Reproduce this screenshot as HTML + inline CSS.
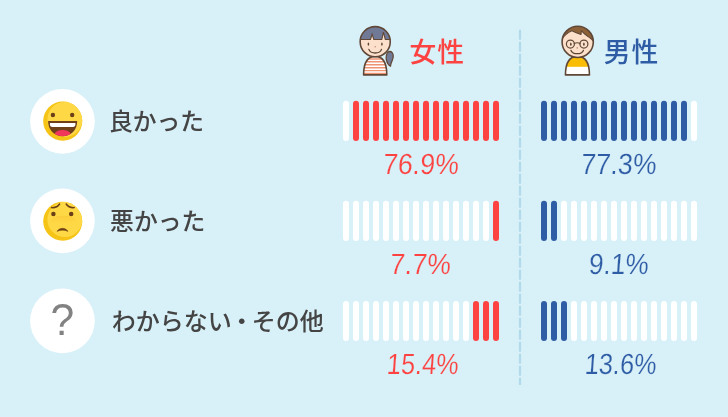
<!DOCTYPE html>
<html lang="ja">
<head>
<meta charset="utf-8">
<title>アンケート結果</title>
<style>
html,body{margin:0;padding:0;}
body{width:728px;height:417px;overflow:hidden;background:#d8f0f8;}
#wrap{position:relative;width:728px;height:417px;background:#d8f0f8;overflow:hidden;font-family:"Liberation Sans","Noto Sans CJK JP",sans-serif;}
#art{position:absolute;left:0;top:0;}
.lbl{position:absolute;white-space:nowrap;color:#444;font-size:23.8px;line-height:30px;height:30px;font-weight:500;}
.hd{position:absolute;white-space:nowrap;font-size:26.8px;line-height:34px;height:34px;font-weight:500;letter-spacing:1px;}
.pc{position:absolute;white-space:nowrap;font-size:29.2px;line-height:30px;height:30px;text-rendering:geometricPrecision;-webkit-text-stroke:0.2px #d8f0f8;transform-origin:0 50%;}
.f{color:#fc4341;}
.m{color:#2e5ca5;}
</style>
</head>
<body>
<div id="wrap">
<svg id="art" width="728" height="417" viewBox="0 0 728 417">
  <line x1="520" y1="29.8" x2="520" y2="385" stroke="#b1dbeb" stroke-width="2.2" stroke-dasharray="10 2"/>
  <circle cx="62.45" cy="121.35" r="32.35" fill="#fff"/>
  <circle cx="62.45" cy="220.85" r="32.35" fill="#fff"/>
  <circle cx="62.45" cy="320.85" r="32.35" fill="#fff"/>
  <g>
    <rect x="343.0" y="100.85" width="6" height="40.1" rx="3" fill="#ffffff"/>
    <rect x="353.0" y="100.85" width="6" height="40.1" rx="3" fill="#fc4341"/>
    <rect x="363.0" y="100.85" width="6" height="40.1" rx="3" fill="#fc4341"/>
    <rect x="373.0" y="100.85" width="6" height="40.1" rx="3" fill="#fc4341"/>
    <rect x="383.0" y="100.85" width="6" height="40.1" rx="3" fill="#fc4341"/>
    <rect x="393.0" y="100.85" width="6" height="40.1" rx="3" fill="#fc4341"/>
    <rect x="403.0" y="100.85" width="6" height="40.1" rx="3" fill="#fc4341"/>
    <rect x="413.0" y="100.85" width="6" height="40.1" rx="3" fill="#fc4341"/>
    <rect x="423.0" y="100.85" width="6" height="40.1" rx="3" fill="#fc4341"/>
    <rect x="433.0" y="100.85" width="6" height="40.1" rx="3" fill="#fc4341"/>
    <rect x="443.0" y="100.85" width="6" height="40.1" rx="3" fill="#fc4341"/>
    <rect x="453.0" y="100.85" width="6" height="40.1" rx="3" fill="#fc4341"/>
    <rect x="463.0" y="100.85" width="6" height="40.1" rx="3" fill="#fc4341"/>
    <rect x="473.0" y="100.85" width="6" height="40.1" rx="3" fill="#fc4341"/>
    <rect x="483.0" y="100.85" width="6" height="40.1" rx="3" fill="#fc4341"/>
    <rect x="493.0" y="100.85" width="6" height="40.1" rx="3" fill="#fc4341"/>
  </g>
  <g>
    <rect x="541.0" y="100.85" width="6" height="40.1" rx="3" fill="#2e5ca5"/>
    <rect x="551.0" y="100.85" width="6" height="40.1" rx="3" fill="#2e5ca5"/>
    <rect x="561.0" y="100.85" width="6" height="40.1" rx="3" fill="#2e5ca5"/>
    <rect x="571.0" y="100.85" width="6" height="40.1" rx="3" fill="#2e5ca5"/>
    <rect x="581.0" y="100.85" width="6" height="40.1" rx="3" fill="#2e5ca5"/>
    <rect x="591.0" y="100.85" width="6" height="40.1" rx="3" fill="#2e5ca5"/>
    <rect x="601.0" y="100.85" width="6" height="40.1" rx="3" fill="#2e5ca5"/>
    <rect x="611.0" y="100.85" width="6" height="40.1" rx="3" fill="#2e5ca5"/>
    <rect x="621.0" y="100.85" width="6" height="40.1" rx="3" fill="#2e5ca5"/>
    <rect x="631.0" y="100.85" width="6" height="40.1" rx="3" fill="#2e5ca5"/>
    <rect x="641.0" y="100.85" width="6" height="40.1" rx="3" fill="#2e5ca5"/>
    <rect x="651.0" y="100.85" width="6" height="40.1" rx="3" fill="#2e5ca5"/>
    <rect x="661.0" y="100.85" width="6" height="40.1" rx="3" fill="#2e5ca5"/>
    <rect x="671.0" y="100.85" width="6" height="40.1" rx="3" fill="#2e5ca5"/>
    <rect x="681.0" y="100.85" width="6" height="40.1" rx="3" fill="#2e5ca5"/>
    <rect x="691.0" y="100.85" width="6" height="40.1" rx="3" fill="#ffffff"/>
  </g>
  <g>
    <rect x="343.0" y="200.85" width="6" height="40.1" rx="3" fill="#ffffff"/>
    <rect x="353.0" y="200.85" width="6" height="40.1" rx="3" fill="#ffffff"/>
    <rect x="363.0" y="200.85" width="6" height="40.1" rx="3" fill="#ffffff"/>
    <rect x="373.0" y="200.85" width="6" height="40.1" rx="3" fill="#ffffff"/>
    <rect x="383.0" y="200.85" width="6" height="40.1" rx="3" fill="#ffffff"/>
    <rect x="393.0" y="200.85" width="6" height="40.1" rx="3" fill="#ffffff"/>
    <rect x="403.0" y="200.85" width="6" height="40.1" rx="3" fill="#ffffff"/>
    <rect x="413.0" y="200.85" width="6" height="40.1" rx="3" fill="#ffffff"/>
    <rect x="423.0" y="200.85" width="6" height="40.1" rx="3" fill="#ffffff"/>
    <rect x="433.0" y="200.85" width="6" height="40.1" rx="3" fill="#ffffff"/>
    <rect x="443.0" y="200.85" width="6" height="40.1" rx="3" fill="#ffffff"/>
    <rect x="453.0" y="200.85" width="6" height="40.1" rx="3" fill="#ffffff"/>
    <rect x="463.0" y="200.85" width="6" height="40.1" rx="3" fill="#ffffff"/>
    <rect x="473.0" y="200.85" width="6" height="40.1" rx="3" fill="#ffffff"/>
    <rect x="483.0" y="200.85" width="6" height="40.1" rx="3" fill="#ffffff"/>
    <rect x="493.0" y="200.85" width="6" height="40.1" rx="3" fill="#fc4341"/>
  </g>
  <g>
    <rect x="541.0" y="200.85" width="6" height="40.1" rx="3" fill="#2e5ca5"/>
    <rect x="551.0" y="200.85" width="6" height="40.1" rx="3" fill="#2e5ca5"/>
    <rect x="561.0" y="200.85" width="6" height="40.1" rx="3" fill="#ffffff"/>
    <rect x="571.0" y="200.85" width="6" height="40.1" rx="3" fill="#ffffff"/>
    <rect x="581.0" y="200.85" width="6" height="40.1" rx="3" fill="#ffffff"/>
    <rect x="591.0" y="200.85" width="6" height="40.1" rx="3" fill="#ffffff"/>
    <rect x="601.0" y="200.85" width="6" height="40.1" rx="3" fill="#ffffff"/>
    <rect x="611.0" y="200.85" width="6" height="40.1" rx="3" fill="#ffffff"/>
    <rect x="621.0" y="200.85" width="6" height="40.1" rx="3" fill="#ffffff"/>
    <rect x="631.0" y="200.85" width="6" height="40.1" rx="3" fill="#ffffff"/>
    <rect x="641.0" y="200.85" width="6" height="40.1" rx="3" fill="#ffffff"/>
    <rect x="651.0" y="200.85" width="6" height="40.1" rx="3" fill="#ffffff"/>
    <rect x="661.0" y="200.85" width="6" height="40.1" rx="3" fill="#ffffff"/>
    <rect x="671.0" y="200.85" width="6" height="40.1" rx="3" fill="#ffffff"/>
    <rect x="681.0" y="200.85" width="6" height="40.1" rx="3" fill="#ffffff"/>
    <rect x="691.0" y="200.85" width="6" height="40.1" rx="3" fill="#ffffff"/>
  </g>
  <g>
    <rect x="343.0" y="300.95" width="6" height="40.1" rx="3" fill="#ffffff"/>
    <rect x="353.0" y="300.95" width="6" height="40.1" rx="3" fill="#ffffff"/>
    <rect x="363.0" y="300.95" width="6" height="40.1" rx="3" fill="#ffffff"/>
    <rect x="373.0" y="300.95" width="6" height="40.1" rx="3" fill="#ffffff"/>
    <rect x="383.0" y="300.95" width="6" height="40.1" rx="3" fill="#ffffff"/>
    <rect x="393.0" y="300.95" width="6" height="40.1" rx="3" fill="#ffffff"/>
    <rect x="403.0" y="300.95" width="6" height="40.1" rx="3" fill="#ffffff"/>
    <rect x="413.0" y="300.95" width="6" height="40.1" rx="3" fill="#ffffff"/>
    <rect x="423.0" y="300.95" width="6" height="40.1" rx="3" fill="#ffffff"/>
    <rect x="433.0" y="300.95" width="6" height="40.1" rx="3" fill="#ffffff"/>
    <rect x="443.0" y="300.95" width="6" height="40.1" rx="3" fill="#ffffff"/>
    <rect x="453.0" y="300.95" width="6" height="40.1" rx="3" fill="#ffffff"/>
    <rect x="463.0" y="300.95" width="6" height="40.1" rx="3" fill="#ffffff"/>
    <rect x="473.0" y="300.95" width="6" height="40.1" rx="3" fill="#fc4341"/>
    <rect x="483.0" y="300.95" width="6" height="40.1" rx="3" fill="#fc4341"/>
    <rect x="493.0" y="300.95" width="6" height="40.1" rx="3" fill="#fc4341"/>
  </g>
  <g>
    <rect x="541.0" y="300.95" width="6" height="40.1" rx="3" fill="#2e5ca5"/>
    <rect x="551.0" y="300.95" width="6" height="40.1" rx="3" fill="#2e5ca5"/>
    <rect x="561.0" y="300.95" width="6" height="40.1" rx="3" fill="#2e5ca5"/>
    <rect x="571.0" y="300.95" width="6" height="40.1" rx="3" fill="#ffffff"/>
    <rect x="581.0" y="300.95" width="6" height="40.1" rx="3" fill="#ffffff"/>
    <rect x="591.0" y="300.95" width="6" height="40.1" rx="3" fill="#ffffff"/>
    <rect x="601.0" y="300.95" width="6" height="40.1" rx="3" fill="#ffffff"/>
    <rect x="611.0" y="300.95" width="6" height="40.1" rx="3" fill="#ffffff"/>
    <rect x="621.0" y="300.95" width="6" height="40.1" rx="3" fill="#ffffff"/>
    <rect x="631.0" y="300.95" width="6" height="40.1" rx="3" fill="#ffffff"/>
    <rect x="641.0" y="300.95" width="6" height="40.1" rx="3" fill="#ffffff"/>
    <rect x="651.0" y="300.95" width="6" height="40.1" rx="3" fill="#ffffff"/>
    <rect x="661.0" y="300.95" width="6" height="40.1" rx="3" fill="#ffffff"/>
    <rect x="671.0" y="300.95" width="6" height="40.1" rx="3" fill="#ffffff"/>
    <rect x="681.0" y="300.95" width="6" height="40.1" rx="3" fill="#ffffff"/>
    <rect x="691.0" y="300.95" width="6" height="40.1" rx="3" fill="#ffffff"/>
  </g>

  <!-- emoji: happy -->
  <g>
    <clipPath id="e1"><circle cx="62.75" cy="121.1" r="19.55"/></clipPath>
    <circle cx="62.75" cy="121.1" r="19.55" fill="#f5c416"/>
    <circle clip-path="url(#e1)" cx="64.9" cy="119.4" r="17.5" fill="#ffd945"/>
    <circle cx="52.9" cy="115" r="2.2" fill="#6b3f17"/>
    <circle cx="72.2" cy="115" r="2.2" fill="#6b3f17"/>
    <path d="M48.1 121.1 H77.2 C77.2 130 71 136.3 62.65 136.3 C54.3 136.3 48.1 130 48.1 121.1 Z" fill="#6e3f18"/>
    <path d="M49.9 122.9 H75.4 V124.6 C75.4 126.1 74.5 127 73 127 H52.3 C50.8 127 49.9 126.1 49.9 124.6 Z" fill="#fff"/>
    <path d="M54.4 133.6 C56.2 130.8 59.2 129.9 62.65 129.9 C66.1 129.9 69.1 130.8 70.9 133.6 C68.8 135.4 65.9 136.3 62.65 136.3 C59.4 136.3 56.5 135.4 54.4 133.6 Z" fill="#f0365b"/>
  </g>
  <!-- emoji: worried -->
  <g>
    <linearGradient id="wg" x1="0" y1="215.2" x2="0" y2="224" gradientUnits="userSpaceOnUse">
      <stop offset="0" stop-color="#f5b62a" stop-opacity="0"/>
      <stop offset="0.1" stop-color="#f5b62a" stop-opacity="0.36"/>
      <stop offset="0.3" stop-color="#f5b62a" stop-opacity="0.26"/>
      <stop offset="1" stop-color="#f5b62a" stop-opacity="0"/>
    </linearGradient>
    <clipPath id="e2"><circle cx="62.75" cy="221.2" r="19.55"/></clipPath>
    <circle cx="62.75" cy="221.2" r="19.55" fill="#f5c416"/>
    <circle clip-path="url(#e2)" cx="64.9" cy="219.5" r="17.5" fill="#ffd945"/>
    <ellipse cx="63.3" cy="221.6" rx="13" ry="6.4" fill="url(#wg)"/>
    <circle cx="53.4" cy="213.9" r="2.25" fill="#6b3f17"/>
    <circle cx="71.2" cy="213.9" r="2.25" fill="#6b3f17"/>
    <path d="M51.6 207.6 C55 207.9 58 206.4 59.6 204" fill="none" stroke="#6b3f17" stroke-width="1.5" stroke-linecap="round"/>
    <path d="M66.2 204 C67.8 206.4 70.8 207.9 74.2 207.6" fill="none" stroke="#6b3f17" stroke-width="1.5" stroke-linecap="round"/>
    <path d="M57 231.4 C59.5 227.3 65.5 227.3 68 231.4 C65 229.8 60 229.8 57 231.4 Z" fill="#6b3f17" stroke="#6b3f17" stroke-width="0.5" stroke-linejoin="round"/>
  </g>
  <!-- question mark -->
  <text transform="translate(62.25 335.1) scale(0.955 1)" x="0" y="0" text-anchor="middle" font-family="'Liberation Sans',sans-serif" font-size="44.6" fill="#828282">?</text>
  <!-- female -->
  <g stroke-linejoin="round" stroke-linecap="round">
    <clipPath id="fb"><path d="M363.6 74.9 C363.6 62.3 367.4 56.4 375.2 56.4 C383 56.4 386.8 62.3 386.8 74.9 Z"/></clipPath>
    <path d="M363.6 74.9 C363.6 62.3 367.4 56.4 375.2 56.4 C383 56.4 386.8 62.3 386.8 74.9 Z" fill="#fff"/>
    <g clip-path="url(#fb)" stroke="#ef9270" stroke-width="1.45" stroke-linecap="butt">
      <path d="M360 58.9H390M360 61.8H390M360 64.7H390M360 67.7H390M360 70.6H390M360 73.5H390"/>
    </g>
    <path d="M363.6 74.9 C363.6 62.3 367.4 56.4 375.2 56.4 C383 56.4 386.8 62.3 386.8 74.9 Z" fill="none" stroke="#604838" stroke-width="1.6"/>
    <path d="M388.2 51.9 C389.6 51.3 391.2 51.5 392.1 52.7 C393.5 54.6 393.4 58 392.1 60.8 C391.2 62.8 390.7 64.4 390.5 66.1 C388.7 65.2 387.2 63.2 386.5 60.4 C385.8 57.4 386.2 54 388.2 51.9 Z" fill="#707a96" stroke="#604838" stroke-width="1.3"/>
    <circle cx="375.2" cy="41.7" r="15.05" fill="#fce0cb"/>
    <clipPath id="fh"><circle cx="375.2" cy="41.7" r="15.05"/></clipPath>
    <path clip-path="url(#fh)" d="M357 39.5 H370.5 L372.1 34.2 L373.8 39.5 H381.8 L383.4 32.2 L385.3 39.5 H394 V22 H357 Z" fill="#707a96" stroke="#604838" stroke-width="1.1" stroke-linejoin="miter"/>
    <circle cx="375.2" cy="41.7" r="15.05" fill="none" stroke="#604838" stroke-width="1.6"/>
    <ellipse cx="368.4" cy="44.1" rx="0.8" ry="1.6" fill="#5a4434"/>
    <ellipse cx="381.9" cy="44.1" rx="0.8" ry="1.6" fill="#5a4434"/>
    <circle cx="375.2" cy="46.8" r="0.8" fill="#bf9382"/>
    <path d="M368.9 49.4 C370.6 54.2 379.8 54.2 381.5 49.4" fill="none" stroke="#5a4434" stroke-width="1.3"/>
  </g>
  <!-- male -->
  <g stroke-linejoin="round" stroke-linecap="round">
    <clipPath id="mb"><path d="M565.45 74.9 C565.45 62.3 569.4 56.4 577.45 56.4 C585.5 56.4 589.45 62.3 589.45 74.9 Z"/></clipPath>
    <path d="M565.45 74.9 C565.45 62.3 569.4 56.4 577.45 56.4 C585.5 56.4 589.45 62.3 589.45 74.9 Z" fill="#fff"/>
    <rect clip-path="url(#mb)" x="560" y="50" width="36" height="16.8" fill="#f8bd04"/>
    <path d="M565.45 74.9 C565.45 62.3 569.4 56.4 577.45 56.4 C585.5 56.4 589.45 62.3 589.45 74.9 Z" fill="none" stroke="#604838" stroke-width="1.6"/>
    <circle cx="577.7" cy="41.9" r="15.6" fill="#fde0cb"/>
    <clipPath id="mh"><circle cx="577.7" cy="41.9" r="15.6"/></clipPath>
    <path clip-path="url(#mh)" d="M560 42 C562.3 37.6 566 33.2 571.8 30.7 C574.6 32 578 33.4 581 34.5 L581.4 30.7 C583.3 33 585.6 35 588 36.6 C590 37.6 592 39.5 595 43 V22 H560 Z" fill="#8e6239" stroke="#604838" stroke-width="1.1"/>
    <circle cx="577.7" cy="41.9" r="15.6" fill="none" stroke="#604838" stroke-width="1.6"/>
    <circle cx="570.4" cy="44.1" r="4" fill="none" stroke="#604838" stroke-width="1.2"/>
    <circle cx="583.9" cy="44.1" r="4" fill="none" stroke="#604838" stroke-width="1.2"/>
    <path d="M574.3 43.6 C575.8 42.7 578.5 42.7 580 43.6" fill="none" stroke="#604838" stroke-width="1.2"/>
    <ellipse cx="570.8" cy="44.2" rx="0.8" ry="1.6" fill="#5a4434"/>
    <ellipse cx="583.9" cy="44.2" rx="0.8" ry="1.6" fill="#5a4434"/>
    <circle cx="577.2" cy="47.9" r="0.8" fill="#bf9382"/>
    <path d="M571 50.4 C572.8 54.8 581.6 54.8 583.4 50.4" fill="none" stroke="#5a4434" stroke-width="1.3"/>
  </g>

</svg>
<div class="lbl" style="left:108.9px;top:106.8px;">良かった</div>
<div class="lbl" style="left:110.1px;top:207.2px;">悪かった</div>
<div class="lbl" style="left:111.8px;top:306.9px;font-size:24px;">わからない<span style="margin:0 -2px;">・</span>その他</div>
<div class="hd f" style="left:409.4px;top:36px;">女性</div>
<div class="hd m" style="left:603.8px;top:36px;">男性</div>
<div class="pc f" id="p1" style="left:382.95px;top:149.9px;transform:scaleX(0.918) skewX(-5deg);">76.9%</div>
<div class="pc m" id="p2" style="left:581.15px;top:149.9px;transform:scaleX(0.914) skewX(-5deg);">77.3%</div>
<div class="pc f" id="p3" style="left:390px;top:249.9px;transform:scaleX(0.916) skewX(-5deg);">7.7%</div>
<div class="pc m" id="p4" style="left:589.4px;top:249.9px;transform:scaleX(0.899) skewX(-5deg);">9.1%</div>
<div class="pc f" id="p5" style="left:386.6px;top:349.9px;transform:scaleX(0.867) skewX(-5deg);">15.4%</div>
<div class="pc m" id="p6" style="left:584.6px;top:349.9px;transform:scaleX(0.864) skewX(-5deg);">13.6%</div>
</div>
</body>
</html>
